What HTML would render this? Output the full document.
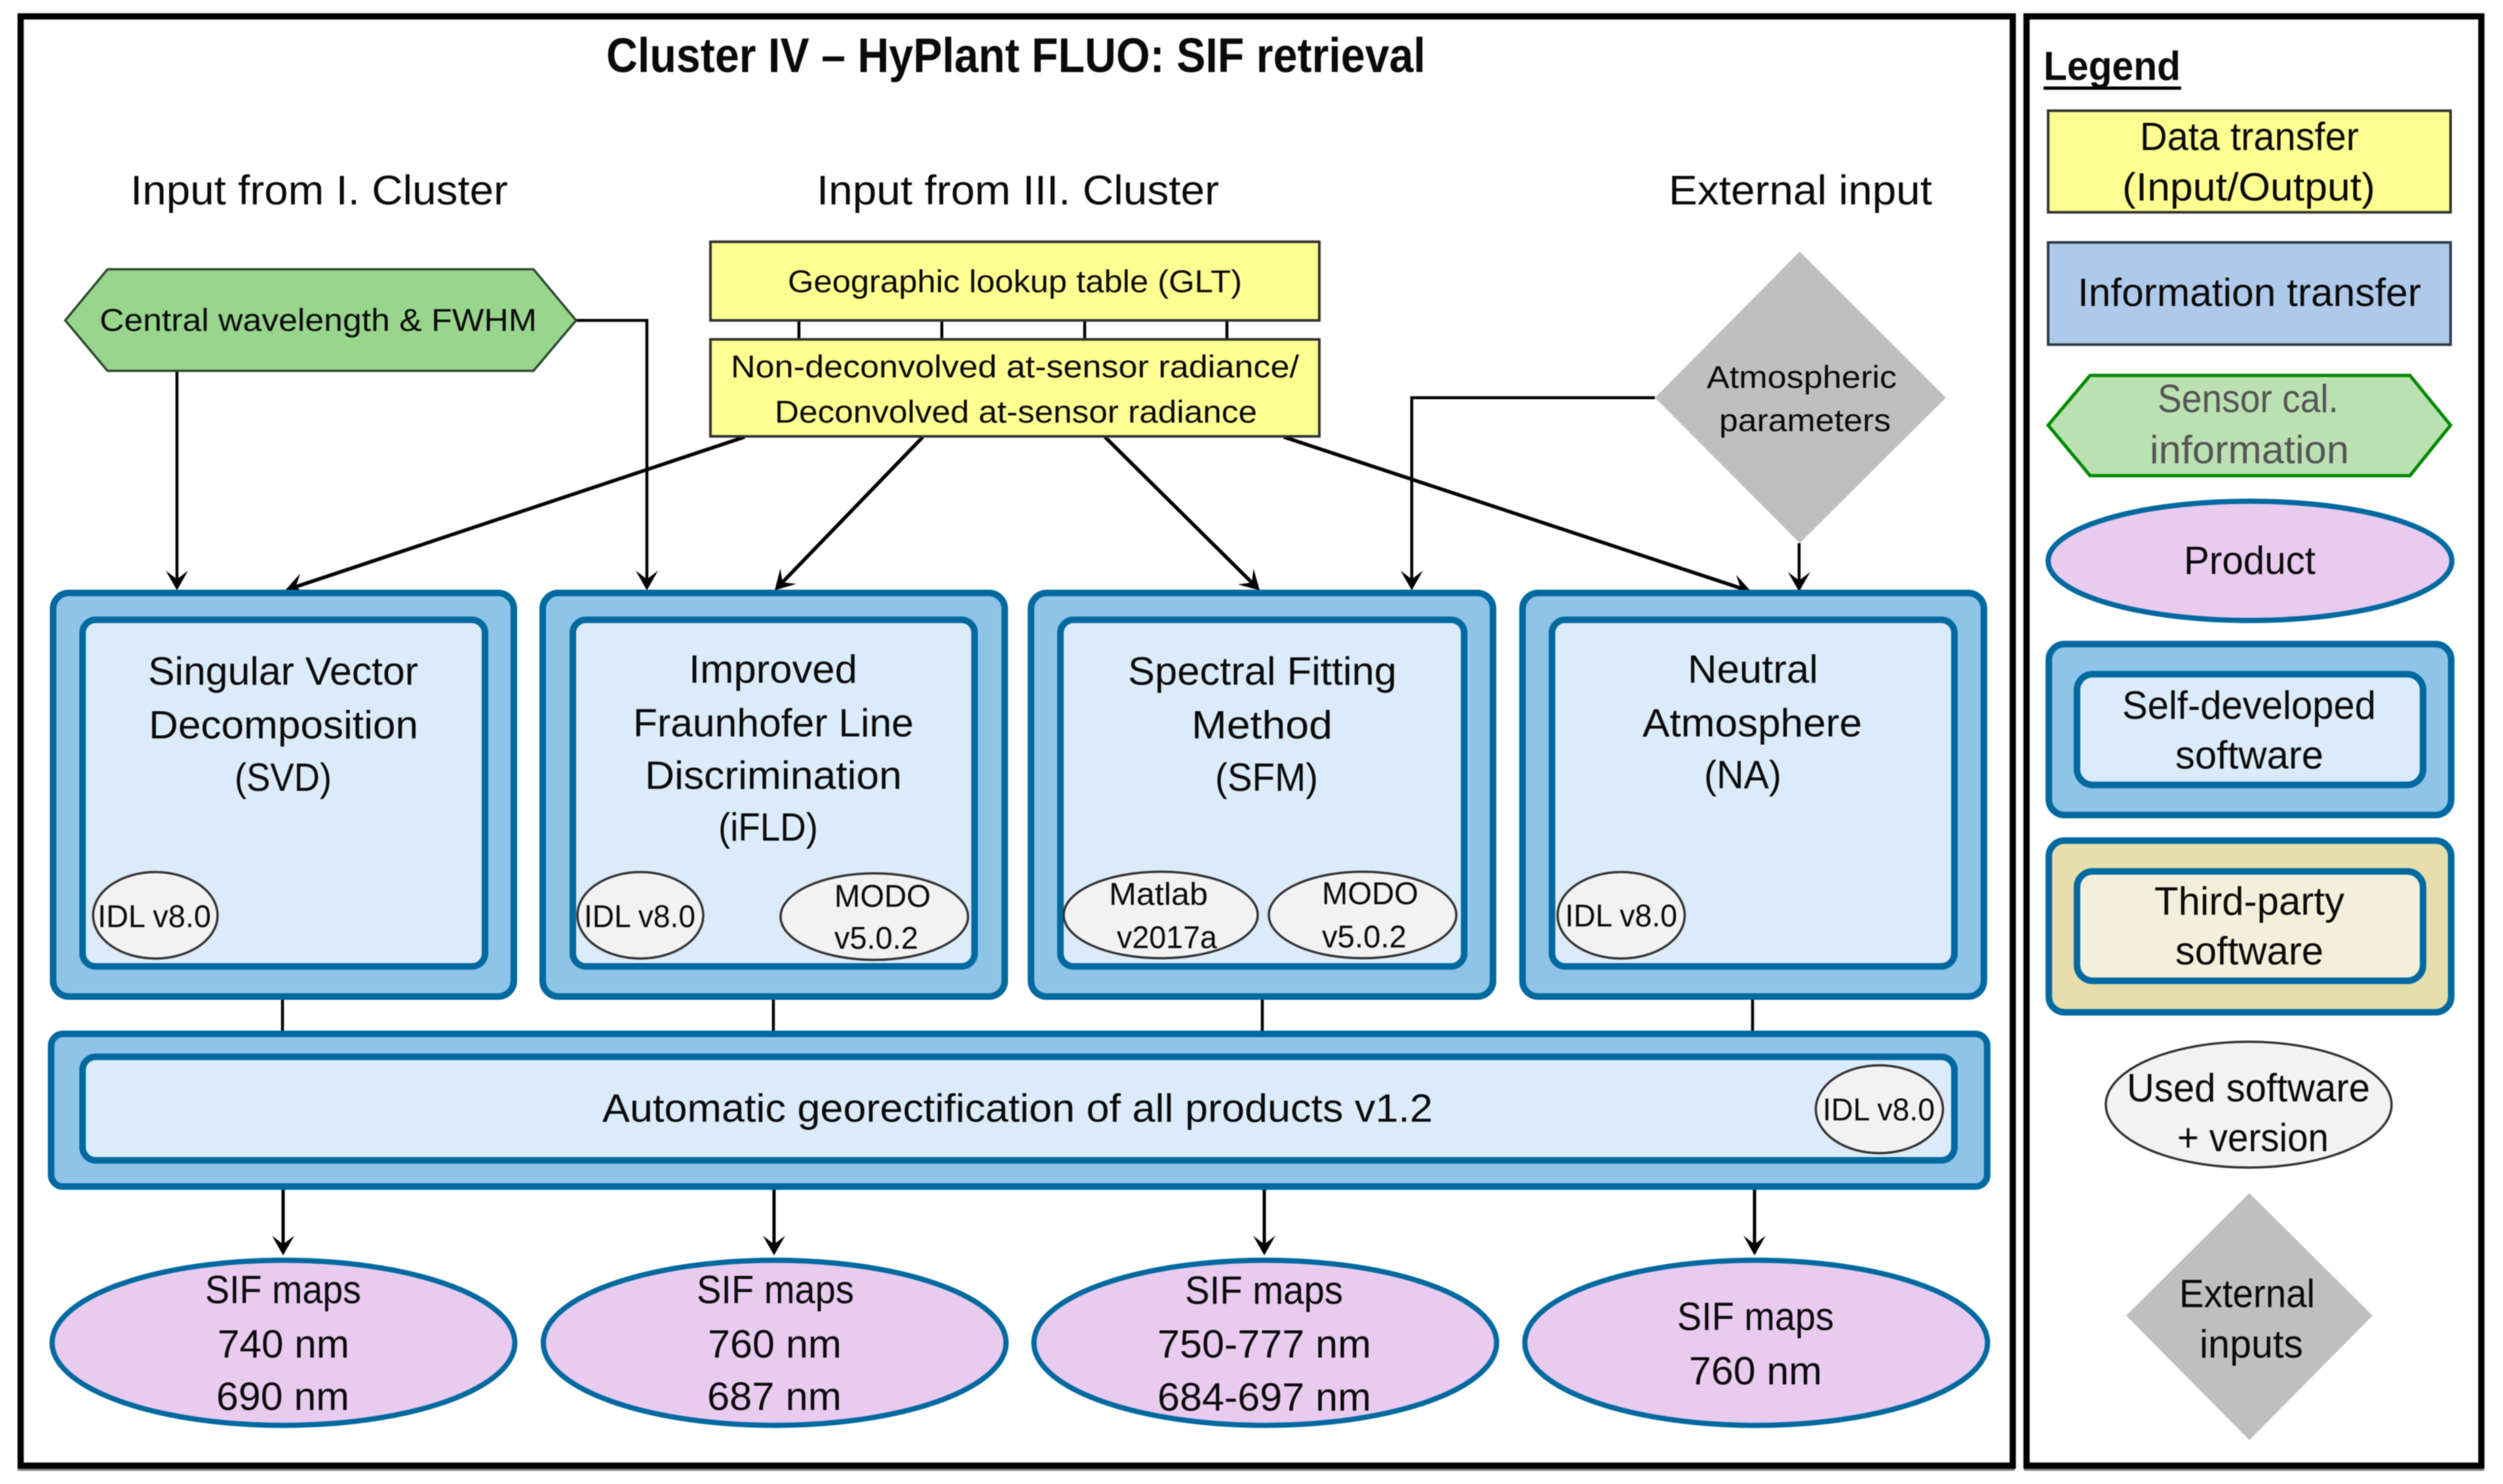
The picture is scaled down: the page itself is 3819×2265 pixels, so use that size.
<!DOCTYPE html>
<html><head><meta charset="utf-8"><style>
html,body{margin:0;padding:0;background:#fff}
svg{display:block;filter:blur(0.9px)}
text{font-family:"Liberation Sans",sans-serif;fill:#0a0a0a}
.m{font-size:60px}.s{font-size:48px}.b{font-size:74px;font-weight:bold}.lg{font-size:62px;font-weight:bold}.h{font-size:63px}
.o{fill:#8FC3E8;stroke:#00699F;stroke-width:10}
.i{fill:#DBEBF9;stroke:#00699F;stroke-width:10}
.p{fill:#E9CBF0;stroke:#00699F;stroke-width:8}
.g{fill:#F2F2F2;stroke:#333;stroke-width:3.5}
.y{fill:#FFFF91;stroke:#333;stroke-width:4}
.l{stroke:#000;stroke-width:4.5;fill:none}
</style></head><body>
<svg xmlns="http://www.w3.org/2000/svg" width="3819" height="2265" viewBox="0 0 3819 2265">
<defs><marker id="a" markerUnits="userSpaceOnUse" markerWidth="32" markerHeight="36" refX="22" refY="17" orient="auto" viewBox="0 0 32 34"><path d="M30,17 L0,0 L13,17 L0,34 Z" fill="#000"/></marker></defs>
<rect width="3819" height="2265" fill="#fff"/>
<rect x="27" y="2240" width="3047" height="5" fill="#888"/>
<rect x="3088" y="2240" width="702" height="5" fill="#888"/>
<rect x="31.5" y="25" width="3039.5" height="2212" fill="none" stroke="#000" stroke-width="9.5"/>
<rect x="3092" y="25" width="694" height="2212" fill="none" stroke="#000" stroke-width="9.5"/>

<text class="b" x="925" y="110" textLength="1250" lengthAdjust="spacingAndGlyphs">Cluster IV – HyPlant FLUO: SIF retrieval</text>
<text class="h" x="199" y="312" textLength="576" lengthAdjust="spacingAndGlyphs">Input from I. Cluster</text>
<text class="h" x="1246" y="312" textLength="614" lengthAdjust="spacingAndGlyphs">Input from III. Cluster</text>
<text class="h" x="2546" y="312" textLength="402" lengthAdjust="spacingAndGlyphs">External input</text>

<!-- connectors -->
<path class="l" d="M1219,490V516M1437,490V516M1655,490V516M1872,490V516"/>
<path class="l" d="M270,566V893" marker-end="url(#a)"/>
<path class="l" d="M879,489H987V893" marker-end="url(#a)"/>
<path class="l" d="M2525,607H2154V893" marker-end="url(#a)"/>
<path class="l" d="M2745,829V895" marker-end="url(#a)"/>
<path class="l" style="stroke-width:5.5" d="M1136,667L442.6,898.5" marker-end="url(#a)"/>
<path class="l" style="stroke-width:5.5" d="M1408,667L1187.6,895.2" marker-end="url(#a)"/>
<path class="l" style="stroke-width:5.5" d="M1686,667L1916.3,895.4" marker-end="url(#a)"/>
<path class="l" style="stroke-width:5.5" d="M1959,667L2664.4,900.5" marker-end="url(#a)"/>
<path class="l" d="M431,1526V1575M1180,1526V1575M1926,1526V1575M2674,1526V1575"/>
<path class="l" style="stroke-width:5" d="M432,1816V1908" marker-end="url(#a)"/>
<path class="l" style="stroke-width:5" d="M1181,1816V1908" marker-end="url(#a)"/>
<path class="l" style="stroke-width:5" d="M1929,1816V1908" marker-end="url(#a)"/>
<path class="l" style="stroke-width:5" d="M2677,1816V1908" marker-end="url(#a)"/>

<!-- inputs -->
<polygon points="99.5,489 164,411 814,411 879,489 814,566 164,566" fill="#98D58D" stroke="#2C4A2C" stroke-width="3.5"/>
<text class="s" x="152" y="505" textLength="667" lengthAdjust="spacingAndGlyphs">Central wavelength &amp; FWHM</text>
<rect class="y" x="1084" y="369" width="929" height="120"/>
<text class="s" x="1202" y="446" textLength="693" lengthAdjust="spacingAndGlyphs">Geographic lookup table (GLT)</text>
<rect class="y" x="1084" y="518" width="929" height="148"/>
<text class="s" x="1115" y="576" textLength="867" lengthAdjust="spacingAndGlyphs">Non-deconvolved at-sensor radiance/</text>
<text class="s" x="1182" y="645" textLength="736" lengthAdjust="spacingAndGlyphs">Deconvolved at-sensor radiance</text>
<polygon points="2746,384 2969,607 2746,829 2525,607" fill="#BFBFBF"/>
<text class="s" x="2604" y="592" textLength="290" lengthAdjust="spacingAndGlyphs">Atmospheric</text>
<text class="s" x="2623" y="658" textLength="262" lengthAdjust="spacingAndGlyphs">parameters</text>

<!-- SVD -->
<rect class="o" x="81" y="905" width="703" height="616" rx="24"/>
<rect class="i" x="126" y="946" width="614" height="529" rx="20"/>
<text class="m" x="226" y="1045" textLength="412" lengthAdjust="spacingAndGlyphs">Singular Vector</text>
<text class="m" x="227" y="1127" textLength="411" lengthAdjust="spacingAndGlyphs">Decomposition</text>
<text class="m" x="358" y="1207" textLength="148" lengthAdjust="spacingAndGlyphs">(SVD)</text>
<ellipse class="g" cx="237" cy="1397" rx="95" ry="66"/>
<text class="s" x="149" y="1415" textLength="173" lengthAdjust="spacingAndGlyphs">IDL v8.0</text>

<!-- iFLD -->
<rect class="o" x="828" y="905" width="705" height="616" rx="24"/>
<rect class="i" x="874" y="946" width="613" height="529" rx="20"/>
<text class="m" x="1051" y="1042" textLength="257" lengthAdjust="spacingAndGlyphs">Improved</text>
<text class="m" x="966" y="1124" textLength="428" lengthAdjust="spacingAndGlyphs">Fraunhofer Line</text>
<text class="m" x="984" y="1204" textLength="392" lengthAdjust="spacingAndGlyphs">Discrimination</text>
<text class="m" x="1096" y="1283" textLength="152" lengthAdjust="spacingAndGlyphs">(iFLD)</text>
<ellipse class="g" cx="977" cy="1397" rx="96" ry="66"/>
<text class="s" x="891" y="1415" textLength="170" lengthAdjust="spacingAndGlyphs">IDL v8.0</text>
<ellipse class="g" cx="1334" cy="1399" rx="143" ry="66"/>
<text class="s" x="1273" y="1384" textLength="147" lengthAdjust="spacingAndGlyphs">MODO</text>
<text class="s" x="1273" y="1448" textLength="128" lengthAdjust="spacingAndGlyphs">v5.0.2</text>

<!-- SFM -->
<rect class="o" x="1573" y="905" width="705" height="616" rx="24"/>
<rect class="i" x="1618" y="946" width="616" height="529" rx="20"/>
<text class="m" x="1721" y="1045" textLength="410" lengthAdjust="spacingAndGlyphs">Spectral Fitting</text>
<text class="m" x="1818" y="1127" textLength="215" lengthAdjust="spacingAndGlyphs">Method</text>
<text class="m" x="1854" y="1207" textLength="157" lengthAdjust="spacingAndGlyphs">(SFM)</text>
<ellipse class="g" cx="1771" cy="1396.5" rx="148" ry="66"/>
<text class="s" x="1692" y="1381" textLength="151" lengthAdjust="spacingAndGlyphs">Matlab</text>
<text class="s" x="1704" y="1447" textLength="153" lengthAdjust="spacingAndGlyphs">v2017a</text>
<ellipse class="g" cx="2079" cy="1396.5" rx="143" ry="66"/>
<text class="s" x="2017" y="1380" textLength="147" lengthAdjust="spacingAndGlyphs">MODO</text>
<text class="s" x="2017" y="1446" textLength="129" lengthAdjust="spacingAndGlyphs">v5.0.2</text>

<!-- NA -->
<rect class="o" x="2323" y="905" width="704" height="616" rx="24"/>
<rect class="i" x="2368" y="946" width="614" height="529" rx="20"/>
<text class="m" x="2575" y="1042" textLength="199" lengthAdjust="spacingAndGlyphs">Neutral</text>
<text class="m" x="2506" y="1124" textLength="335" lengthAdjust="spacingAndGlyphs">Atmosphere</text>
<text class="m" x="2600" y="1203" textLength="118" lengthAdjust="spacingAndGlyphs">(NA)</text>
<ellipse class="g" cx="2473.5" cy="1397" rx="97" ry="66"/>
<text class="s" x="2388" y="1414" textLength="171" lengthAdjust="spacingAndGlyphs">IDL v8.0</text>

<!-- georect -->
<rect class="o" x="78" y="1578" width="2954" height="233" rx="18"/>
<rect class="i" x="126" y="1613" width="2856" height="158" rx="20"/>
<text class="m" x="919" y="1712" textLength="1267" lengthAdjust="spacingAndGlyphs">Automatic georectification of all products v1.2</text>
<ellipse class="g" cx="2867.5" cy="1693" rx="97" ry="67"/>
<text class="s" x="2781" y="1710" textLength="171" lengthAdjust="spacingAndGlyphs">IDL v8.0</text>

<!-- products -->
<ellipse class="p" cx="432.5" cy="2049.5" rx="353" ry="126"/>
<text class="m" x="313" y="1989" textLength="238" lengthAdjust="spacingAndGlyphs">SIF maps</text>
<text class="m" x="332" y="2072" textLength="201" lengthAdjust="spacingAndGlyphs">740 nm</text>
<text class="m" x="330" y="2152" textLength="203" lengthAdjust="spacingAndGlyphs">690 nm</text>
<ellipse class="p" cx="1182" cy="2049.5" rx="353" ry="126"/>
<text class="m" x="1063" y="1989" textLength="240" lengthAdjust="spacingAndGlyphs">SIF maps</text>
<text class="m" x="1080" y="2072" textLength="204" lengthAdjust="spacingAndGlyphs">760 nm</text>
<text class="m" x="1079" y="2152" textLength="205" lengthAdjust="spacingAndGlyphs">687 nm</text>
<ellipse class="p" cx="1930.5" cy="2049.5" rx="353" ry="126"/>
<text class="m" x="1808" y="1990" textLength="241" lengthAdjust="spacingAndGlyphs">SIF maps</text>
<text class="m" x="1766" y="2072" textLength="326" lengthAdjust="spacingAndGlyphs">750-777 nm</text>
<text class="m" x="1766" y="2153" textLength="326" lengthAdjust="spacingAndGlyphs">684-697 nm</text>
<ellipse class="p" cx="2679.5" cy="2049.5" rx="353" ry="126"/>
<text class="m" x="2559" y="2030" textLength="239" lengthAdjust="spacingAndGlyphs">SIF maps</text>
<text class="m" x="2577" y="2113" textLength="203" lengthAdjust="spacingAndGlyphs">760 nm</text>

<!-- legend -->
<text class="lg" x="3118" y="122" textLength="209" lengthAdjust="spacingAndGlyphs">Legend</text>
<rect x="3118" y="132" width="210" height="5" fill="#000"/>
<rect class="y" x="3125" y="169" width="614" height="155"/>
<text class="m" x="3265" y="229" textLength="334" lengthAdjust="spacingAndGlyphs">Data transfer</text>
<text class="m" x="3238" y="306" textLength="386" lengthAdjust="spacingAndGlyphs">(Input/Output)</text>
<rect x="3125" y="370" width="614" height="156" fill="#AFC9EA" stroke="#2B3A4A" stroke-width="4"/>
<text class="m" x="3170" y="467" textLength="524" lengthAdjust="spacingAndGlyphs">Information transfer</text>
<polygon points="3125,649 3189,573 3677,573 3739,649 3677,726 3189,726" fill="#BBE1B3" stroke="#008A00" stroke-width="5"/>
<text class="m" style="fill:#555" x="3292" y="629" textLength="276" lengthAdjust="spacingAndGlyphs">Sensor cal.</text>
<text class="m" style="fill:#555" x="3280" y="707" textLength="304" lengthAdjust="spacingAndGlyphs">information</text>
<ellipse class="p" cx="3433" cy="856" rx="308" ry="91"/>
<text class="m" x="3332" y="876" textLength="201" lengthAdjust="spacingAndGlyphs">Product</text>
<rect class="o" x="3126" y="983" width="614" height="261" rx="24"/>
<rect class="i" x="3169" y="1029" width="528" height="169" rx="24"/>
<text class="m" x="3238" y="1097" textLength="387" lengthAdjust="spacingAndGlyphs">Self-developed</text>
<text class="m" x="3319" y="1173" textLength="226" lengthAdjust="spacingAndGlyphs">software</text>
<rect x="3126" y="1283" width="614" height="262" rx="24" fill="#E6DFAC" stroke="#00699F" stroke-width="10"/>
<rect x="3169" y="1330" width="528" height="167" rx="24" fill="#F2F0DA" stroke="#00699F" stroke-width="10"/>
<text class="m" x="3287" y="1396" textLength="290" lengthAdjust="spacingAndGlyphs">Third-party</text>
<text class="m" x="3319" y="1472" textLength="226" lengthAdjust="spacingAndGlyphs">software</text>
<ellipse class="g" cx="3431" cy="1686" rx="218" ry="96"/>
<text class="m" x="3245" y="1681" textLength="371" lengthAdjust="spacingAndGlyphs">Used software</text>
<text class="m" x="3322" y="1757" textLength="231" lengthAdjust="spacingAndGlyphs">+ version</text>
<polygon points="3432,1821 3620,2008 3432,2198 3244,2008" fill="#BFBFBF"/>
<text class="m" x="3325" y="1995" textLength="207" lengthAdjust="spacingAndGlyphs">External</text>
<text class="m" x="3356" y="2072" textLength="158" lengthAdjust="spacingAndGlyphs">inputs</text>
</svg>
</body></html>
